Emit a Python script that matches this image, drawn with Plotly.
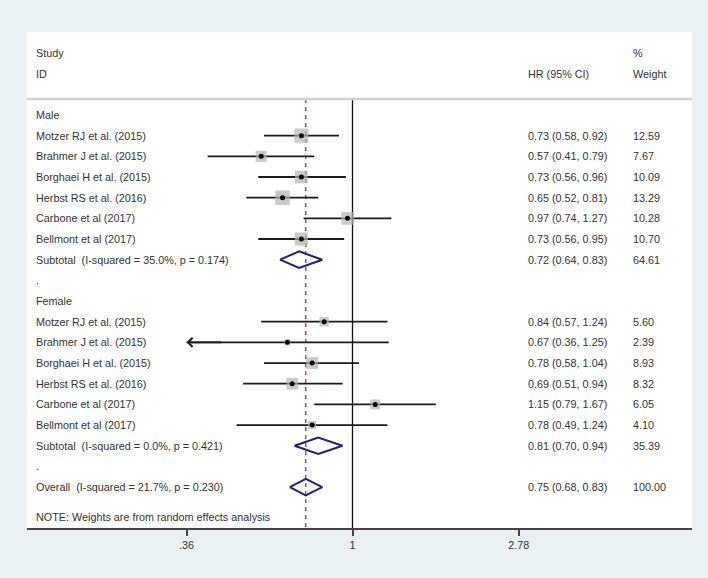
import math
import plotly.graph_objects as go

# ---------------- data ----------------
studies = ["Motzer RJ et al. (2015)", "Brahmer J et al. (2015)", "Borghaei H et al. (2015)",
           "Herbst RS et al. (2016)", "Carbone et al (2017)", "Bellmont et al (2017)"]
male_hr = [0.73, 0.57, 0.73, 0.65, 0.97, 0.73]
male_lo = [0.58, 0.41, 0.56, 0.52, 0.74, 0.56]
male_hi = [0.92, 0.79, 0.96, 0.81, 1.27, 0.95]
male_w = [12.59, 7.67, 10.09, 13.29, 10.28, 10.70]
female_hr = [0.84, 0.67, 0.78, 0.69, 1.15, 0.78]
female_lo = [0.57, 0.36, 0.58, 0.51, 0.79, 0.49]
female_hi = [1.24, 1.25, 1.04, 0.94, 1.67, 1.24]
female_w = [5.60, 2.39, 8.93, 8.32, 6.05, 4.10]
male_sub = (0.72, 0.64, 0.83, 64.61, "Subtotal\u00a0 (I-squared = 35.0%, p = 0.174)")
female_sub = (0.81, 0.70, 0.94, 35.39, "Subtotal\u00a0 (I-squared = 0.0%, p = 0.421)")
overall = (0.75, 0.68, 0.83, 100.00, "Overall\u00a0 (I-squared = 21.7%, p = 0.230)")
tick_vals = [0.36, 1, 2.78]
tick_text = [".36", "1", "2.78"]
axis_min = 0.36  # CI truncated here -> arrow

# ---------------- layout helpers ----------------
TXT = "#333333"
FONT = "Liberation Sans, Arial, sans-serif"
FS = 10.8
X_LABEL, X_HR, X_W = 0.0105, 0.750, 0.908
SEP_ROW, BOTTOM_ROW, TOP_ROW = -0.77, 19.98, -4.015

fig = go.Figure()
annotations = []


def text(x, row, s, size=FS):
    annotations.append(dict(x=x, y=row, xref="paper", yref="y", text=s, showarrow=False,
                            xanchor="left", yanchor="middle",
                            font=dict(family=FONT, size=size, color=TXT)))


# reference lines
fig.add_trace(go.Scatter(x=[1, 1], y=[SEP_ROW, BOTTOM_ROW], mode="lines",
                         line=dict(color="#111111", width=1.3), hoverinfo="skip"))
fig.add_trace(go.Scatter(x=[overall[0], overall[0]], y=[SEP_ROW, BOTTOM_ROW], mode="lines",
                         line=dict(color="#a23a4a", width=1.3, dash="4px,4px"), hoverinfo="skip"))

# headers
text(X_LABEL, -3.01, "Study")
text(X_LABEL, -1.98, "ID")
text(X_HR, -1.98, "HR (95% CI)")
text(X_W, -3.01, "%")
text(X_W, -1.98, "Weight")


def study_block(start_row, hr, lo, hi, w):
    rows = list(range(start_row, start_row + len(hr)))
    for r, h, l, u, wt, name in zip(rows, hr, lo, hi, w, studies):
        lo_draw = max(l, axis_min)
        fig.add_trace(go.Scatter(x=[lo_draw, u], y=[r, r], mode="lines",
                                 line=dict(color="#1a1a1a", width=1.8), hoverinfo="skip"))
        if l <= axis_min:
            annotations.append(dict(x=math.log10(axis_min), y=r, ax=math.log10(axis_min * 1.25), ay=r,
                                    xref="x", yref="y", axref="x", ayref="y", text="",
                                    showarrow=True, arrowhead=4, arrowsize=1, arrowwidth=1.8,
                                    arrowcolor="#1a1a1a"))
        text(X_LABEL, r, name)
        text(X_HR, r, f"{h:.2f} ({l:.2f}, {u:.2f})")
        text(X_W, r, f"{wt:.2f}")
    fig.add_trace(go.Scatter(x=hr, y=rows, mode="markers",
                             marker=dict(symbol="square", color="#b4b4b4",
                                         size=[4.0 * math.sqrt(v) for v in w], line=dict(width=0)),
                             hoverinfo="skip"))
    fig.add_trace(go.Scatter(x=hr, y=rows, mode="markers",
                             marker=dict(symbol="circle", color="#000000", size=5), hoverinfo="skip"))


def diamond(row, summ):
    est, lo, hi, wt, label = summ
    h = 0.4
    fig.add_trace(go.Scatter(x=[lo, est, hi, est, lo], y=[row, row - h, row, row + h, row],
                             mode="lines", line=dict(color="#1e1e84", width=2), hoverinfo="skip"))
    text(X_LABEL, row, label)
    text(X_HR, row, f"{est:.2f} ({lo:.2f}, {hi:.2f})")
    text(X_W, row, f"{wt:.2f}")


text(X_LABEL, 0, "Male")
study_block(1, male_hr, male_lo, male_hi, male_w)
diamond(7, male_sub)
text(X_LABEL, 8, ".")
text(X_LABEL, 9, "Female")
study_block(10, female_hr, female_lo, female_hi, female_w)
diamond(16, female_sub)
text(X_LABEL, 17, ".")
diamond(18, overall)
text(X_LABEL, 19.45, "NOTE: Weights are from random effects analysis")

shapes = [dict(type="line", xref="paper", yref="y", x0=0, x1=1, y0=SEP_ROW, y1=SEP_ROW,
               line=dict(color="#d2d2d2", width=2.5))]

fig.update_layout(
    width=708, height=578,
    margin=dict(l=27, r=16, t=32, b=50),
    paper_bgcolor="#e9f1f3", plot_bgcolor="#ffffff",
    showlegend=False,
    annotations=annotations, shapes=shapes,
    xaxis=dict(type="log", range=[-0.870, 0.9074], tickvals=tick_vals, ticktext=tick_text,
               showgrid=False, zeroline=False, showline=True, linecolor="#444444", linewidth=1.5,
               ticks="outside", ticklen=6, tickwidth=1.5, tickcolor="#444444",
               tickfont=dict(family=FONT, size=FS, color=TXT), fixedrange=True),
    yaxis=dict(range=[BOTTOM_ROW, TOP_ROW], visible=False, showgrid=False, zeroline=False,
               fixedrange=True),
    font=dict(family=FONT, size=FS, color=TXT),
)

fig.write_html("out.html", config={"displayModeBar": False},
               post_script="document.body.style.margin='0px';document.body.style.overflow='hidden';")
